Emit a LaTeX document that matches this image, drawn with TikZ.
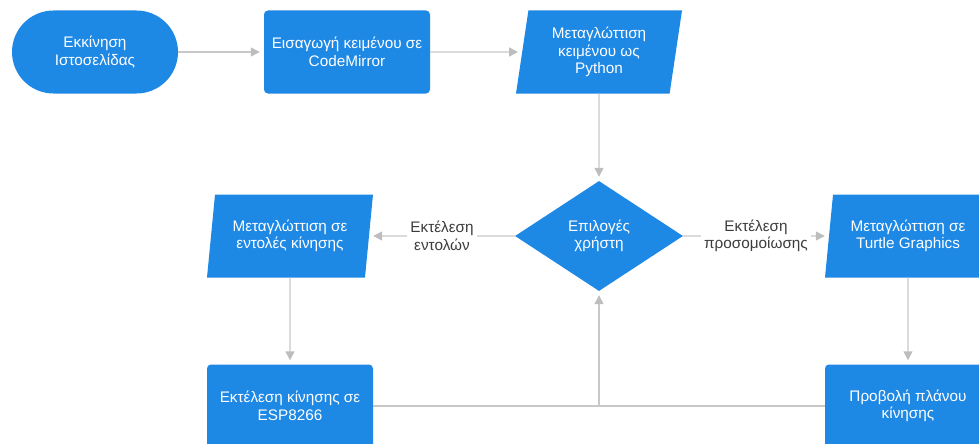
\documentclass[tikz,border=0pt]{standalone}
\usepackage{fontspec}
\setmainfont{Liberation Sans}
\usepackage{xcolor}
\usetikzlibrary{arrows.meta,shapes.geometric,positioning}

\definecolor{flowblue}{HTML}{1E88E5}
\definecolor{flowline}{HTML}{C8C8C8}
\definecolor{flowhead}{HTML}{BDBDBD}
\definecolor{flowtext}{HTML}{3C3C3C}

\tikzset{
	base/.style={fill=flowblue, text=white, align=center, inner sep=0pt,
		font=\fontsize{15.3}{17.5}\selectfont, minimum height=83pt},
	terminal/.style={base, rectangle, rounded corners=41.5pt, minimum width=166pt},
	process/.style={base, rectangle, rounded corners=4pt, minimum width=166pt},
	io/.style={base, trapezium, trapezium left angle=76, trapezium right angle=104,
		trapezium stretches body, minimum width=166pt},
	decision/.style={base, diamond, aspect=1.53, minimum width=168pt, minimum height=110pt},
	flow/.style={draw=flowline, line width=1.4pt, shorten >=4pt,
		-{Triangle[length=9pt,width=9pt,color=flowhead,fill=flowhead]}},
	plain/.style={draw=flowline, line width=1.4pt},
	lbl/.style={fill=white, text=flowtext, align=center, inner sep=3pt,
		font=\fontsize{15.3}{17.5}\selectfont}
}

\begin{document}
\begin{tikzpicture} [x=1pt, y=1pt, node distance=252pt]

	\useasboundingbox (0,0) rectangle (979,-444);

	\node (start) [terminal] at (95,-52) {Εκκίνηση\\Ιστοσελίδας};

	\node (input) [process, right of= start] {Εισαγωγή κειμένου σε\\CodeMirror};

	\node (python) [io, right of= input] {Μεταγλώττιση\\κειμένου ως\\Python};

	\node (choice) [decision, below of= python, node distance=184pt] {Επιλογές\\χρήστη};

	\node (motion) [io, left of= choice, node distance=309pt] {Μεταγλώττιση σε\\εντολές κίνησης};

	\node (turtle) [io, right of= choice, node distance=309pt] {Μεταγλώττιση σε\\Turtle Graphics};

	\node (esp) [process, below of= motion, node distance=170pt] {Εκτέλεση κίνησης σε\\ESP8266};

	\node (plan) [process, below of= turtle, node distance=170pt] {Προβολή πλάνου\\κίνησης};

	\coordinate (merge) at (choice |- esp);


	\draw [flow] (start) -- (input);

	\draw [flow] (input) -- (python);

	\draw [flow] (python) -- (choice);

	\draw [flow] (choice) -- node[lbl] {Εκτέλεση\\εντολών} (motion);

	\draw [flow] (choice) -- node[lbl] {Εκτέλεση\\προσομοίωσης} (turtle);

	\draw [flow] (motion) -- (esp);

	\draw [flow] (turtle) -- (plan);

	\draw [plain] (esp) -- (merge);
	\draw [plain] (plan) -- (merge);
	\draw [flow] (merge) -- (choice);

\end{tikzpicture}
\end{document}
